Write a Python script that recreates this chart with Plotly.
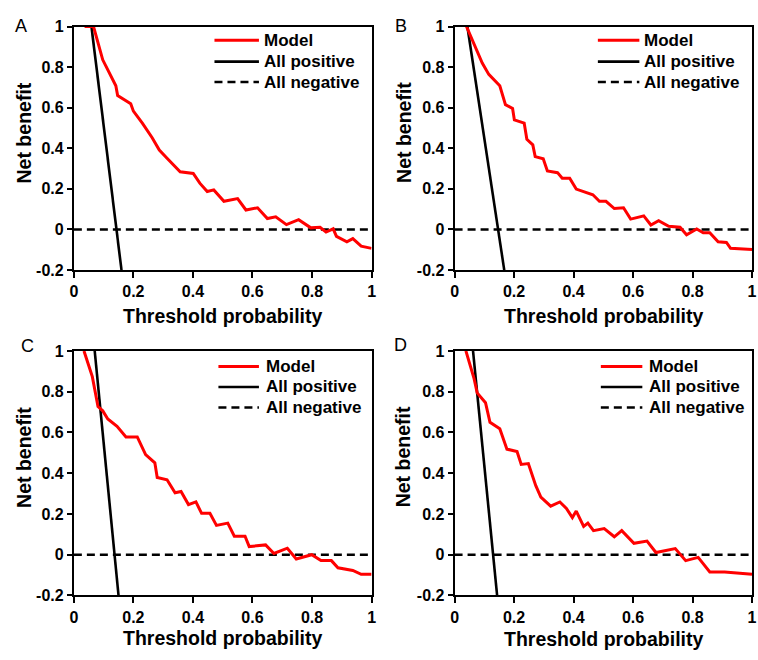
import plotly.graph_objects as go

W, H = 758, 660

# ---------------- data ----------------
panel_labels = ["A", "B", "C", "D"]
x_ticks = [0, 0.2, 0.4, 0.6, 0.8, 1]
x_tick_text = ["0", "0.2", "0.4", "0.6", "0.8", "1"]
y_ticks = [-0.2, 0, 0.2, 0.4, 0.6, 0.8, 1]
y_tick_text = ["-0.2", "0", "0.2", "0.4", "0.6", "0.8", "1"]
series_names = ["Model", "All positive", "All negative"]

model_a_x = [0.036, 0.066, 0.097, 0.116, 0.141, 0.147, 0.191, 0.200, 0.230, 0.263, 0.287, 0.313,
             0.357, 0.401, 0.423, 0.448, 0.470, 0.504, 0.550, 0.578, 0.617, 0.650, 0.678, 0.714,
             0.755, 0.796, 0.827, 0.847, 0.871, 0.882, 0.917, 0.937, 0.965, 1.0]
model_a_y = [1, 1, 0.836, 0.78, 0.708, 0.66, 0.62, 0.583, 0.524, 0.452, 0.391, 0.351,
             0.284, 0.276, 0.228, 0.187, 0.195, 0.139, 0.152, 0.096, 0.107, 0.054, 0.062, 0.024,
             0.048, 0.008, 0.011, -0.013, 0.003, -0.034, -0.061, -0.045, -0.082, -0.093]

model_b_x = [0.040, 0.065, 0.093, 0.115, 0.152, 0.171, 0.195, 0.201, 0.234, 0.243, 0.263, 0.271,
             0.298, 0.312, 0.346, 0.362, 0.387, 0.409, 0.465, 0.487, 0.509, 0.537, 0.568, 0.592,
             0.636, 0.660, 0.686, 0.720, 0.758, 0.780, 0.814, 0.836, 0.858, 0.886, 0.914, 0.928, 1.0]
model_b_y = [1, 0.917, 0.82, 0.764, 0.708, 0.615, 0.596, 0.54, 0.524, 0.444, 0.417, 0.359,
             0.348, 0.288, 0.280, 0.252, 0.252, 0.199, 0.171, 0.139, 0.139, 0.103, 0.107, 0.051,
             0.067, 0.022, 0.043, 0.016, 0.011, -0.026, 0.003, -0.016, -0.016, -0.061, -0.064, -0.093, -0.099]

model_c_x = [0.034, 0.062, 0.081, 0.097, 0.114, 0.145, 0.175, 0.213, 0.241, 0.272, 0.280, 0.313,
             0.340, 0.360, 0.385, 0.410, 0.429, 0.457, 0.479, 0.517, 0.539, 0.575, 0.589, 0.644,
             0.672, 0.717, 0.747, 0.799, 0.830, 0.865, 0.887, 0.937, 0.965, 1.0]
model_c_y = [1, 0.874, 0.727, 0.706, 0.666, 0.630, 0.578, 0.578, 0.491, 0.451, 0.379, 0.368,
             0.304, 0.310, 0.246, 0.259, 0.203, 0.203, 0.144, 0.155, 0.091, 0.091, 0.040, 0.048,
             0.006, 0.032, -0.021, 0.0, -0.029, -0.029, -0.064, -0.077, -0.096, -0.096]

model_d_x = [0.038, 0.065, 0.076, 0.104, 0.119, 0.152, 0.176, 0.210, 0.224, 0.248, 0.273, 0.290,
             0.323, 0.354, 0.376, 0.396, 0.409, 0.434, 0.448, 0.467, 0.503, 0.537, 0.562, 0.603,
             0.647, 0.677, 0.742, 0.777, 0.819, 0.858, 0.908, 1.0]
model_d_y = [1, 0.867, 0.794, 0.746, 0.650, 0.618, 0.518, 0.506, 0.443, 0.447, 0.339, 0.283,
             0.238, 0.259, 0.227, 0.182, 0.214, 0.139, 0.155, 0.118, 0.128, 0.088, 0.118, 0.056,
             0.067, 0.011, 0.030, -0.029, -0.013, -0.085, -0.085, -0.096]

allpos_a_x = [0.059, 0.160]
allpos_a_y = [1, -0.2]
allpos_b_x = [0.043, 0.167]
allpos_b_y = [1, -0.2]
allpos_c_x = [0.070, 0.150]
allpos_c_y = [1, -0.2]
allpos_d_x = [0.062, 0.143]
allpos_d_y = [1, -0.2]

allneg_x = [0, 1]
allneg_y = [0, 0]

# ---------------- layout geometry (pixels) ----------------
FONT = "Arial, Liberation Sans, sans-serif"
panels = [
    # plot-left, plot-right, plot-top, plot-bottom
    dict(l=70.7, r=372.0, t=19.0, b=269.0,
         mx=model_a_x, my=model_a_y, px=allpos_a_x, py=allpos_a_y,
         lab=(17, 18), ytit=(20, 128), xtit=316,
         leg_line=(213, 258), leg_text=261, leg_rows=(33, 55, 76)),
    dict(l=456.0, r=757.0, t=19.0, b=269.0,
         mx=model_b_x, my=model_b_y, px=allpos_b_x, py=allpos_b_y,
         lab=(402, 18), ytit=(404, 128), xtit=316,
         leg_line=(601, 643), leg_text=646, leg_rows=(33, 55, 76)),
    dict(l=70.7, r=372.0, t=352.0, b=603.0,
         mx=model_c_x, my=model_c_y, px=allpos_c_x, py=allpos_c_y,
         lab=(24, 347), ytit=(20, 461), xtit=647,
         leg_line=(217, 258), leg_text=263, leg_rows=(368, 389, 410)),
    dict(l=456.0, r=757.0, t=352.0, b=603.0,
         mx=model_d_x, my=model_d_y, px=allpos_d_x, py=allpos_d_y,
         lab=(401, 346), ytit=(404, 461), xtit=648,
         leg_line=(604, 646), leg_text=651, leg_rows=(368, 389, 410)),
]


def fx(px):
    return px / W


def fy(py):
    return 1 - py / H


fig = go.Figure()
layout = dict(
    width=W, height=H, margin=dict(l=0, r=0, t=0, b=0),
    paper_bgcolor="white", plot_bgcolor="white", showlegend=False,
)
annotations = []
shapes = []

red = "#ff0000"
for i, p in enumerate(panels):
    n = "" if i == 0 else str(i + 1)
    xa, ya = "x" + n, "y" + n
    fig.add_trace(go.Scatter(x=allneg_x, y=allneg_y, mode="lines", name=series_names[2],
                             line=dict(color="black", width=2.6, dash="8px,5px"),
                             xaxis=xa, yaxis=ya))
    fig.add_trace(go.Scatter(x=p["px"], y=p["py"], mode="lines", name=series_names[1],
                             line=dict(color="black", width=2.6), xaxis=xa, yaxis=ya))
    fig.add_trace(go.Scatter(x=p["mx"], y=p["my"], mode="lines", name=series_names[0],
                             line=dict(color=red, width=3), xaxis=xa, yaxis=ya))

    common = dict(showline=True, linecolor="black", linewidth=2, mirror=True,
                  ticks="outside", ticklen=5, tickwidth=1.6, tickcolor="black",
                  showgrid=False, zeroline=False,
                  tickfont=dict(family=FONT, size=16, color="black", weight="bold"))
    layout["xaxis" + n] = dict(common, domain=[fx(p["l"]), fx(p["r"])], range=[0, 1],
                               anchor=ya, tickvals=x_ticks, ticktext=x_tick_text, ticklen=6)
    layout["yaxis" + n] = dict(common, domain=[fy(p["b"]), fy(p["t"])], range=[-0.2, 1],
                               anchor=xa, tickvals=y_ticks, ticktext=y_tick_text)

    # panel letter
    annotations.append(dict(x=fx(p["lab"][0]), y=fy(p["lab"][1]), xref="paper", yref="paper",
                            text=panel_labels[i], showarrow=False, xanchor="center", yanchor="middle",
                            font=dict(family=FONT, size=18, color="black")))
    # axis titles
    annotations.append(dict(x=fx((p["l"] + p["r"]) / 2), y=fy(p["xtit"]), xref="paper", yref="paper",
                            text="Threshold probability", showarrow=False, xanchor="center",
                            yanchor="middle",
                            font=dict(family=FONT, size=19.5, color="black", weight="bold")))
    annotations.append(dict(x=fx(p["ytit"][0]), y=fy(p["ytit"][1]), xref="paper", yref="paper",
                            text="Net benefit", showarrow=False, textangle=-90, xanchor="center",
                            yanchor="middle",
                            font=dict(family=FONT, size=19.5, color="black", weight="bold")))
    # legend (drawn manually)
    styles = [dict(color=red, width=3), dict(color="black", width=2.6),
              dict(color="black", width=2.6, dash="8px,5px")]
    for k in range(3):
        yy = fy(p["leg_rows"][k])
        shapes.append(dict(type="line", xref="paper", yref="paper",
                           x0=fx(p["leg_line"][0]), x1=fx(p["leg_line"][1]), y0=yy, y1=yy,
                           line=styles[k]))
        annotations.append(dict(x=fx(p["leg_text"]), y=yy, xref="paper", yref="paper",
                                text=series_names[k], showarrow=False, xanchor="left",
                                yanchor="middle",
                                font=dict(family=FONT, size=17, color="black", weight="bold")))

layout["annotations"] = annotations
layout["shapes"] = shapes
fig.update_layout(**layout)
fig.write_html("out.html")
